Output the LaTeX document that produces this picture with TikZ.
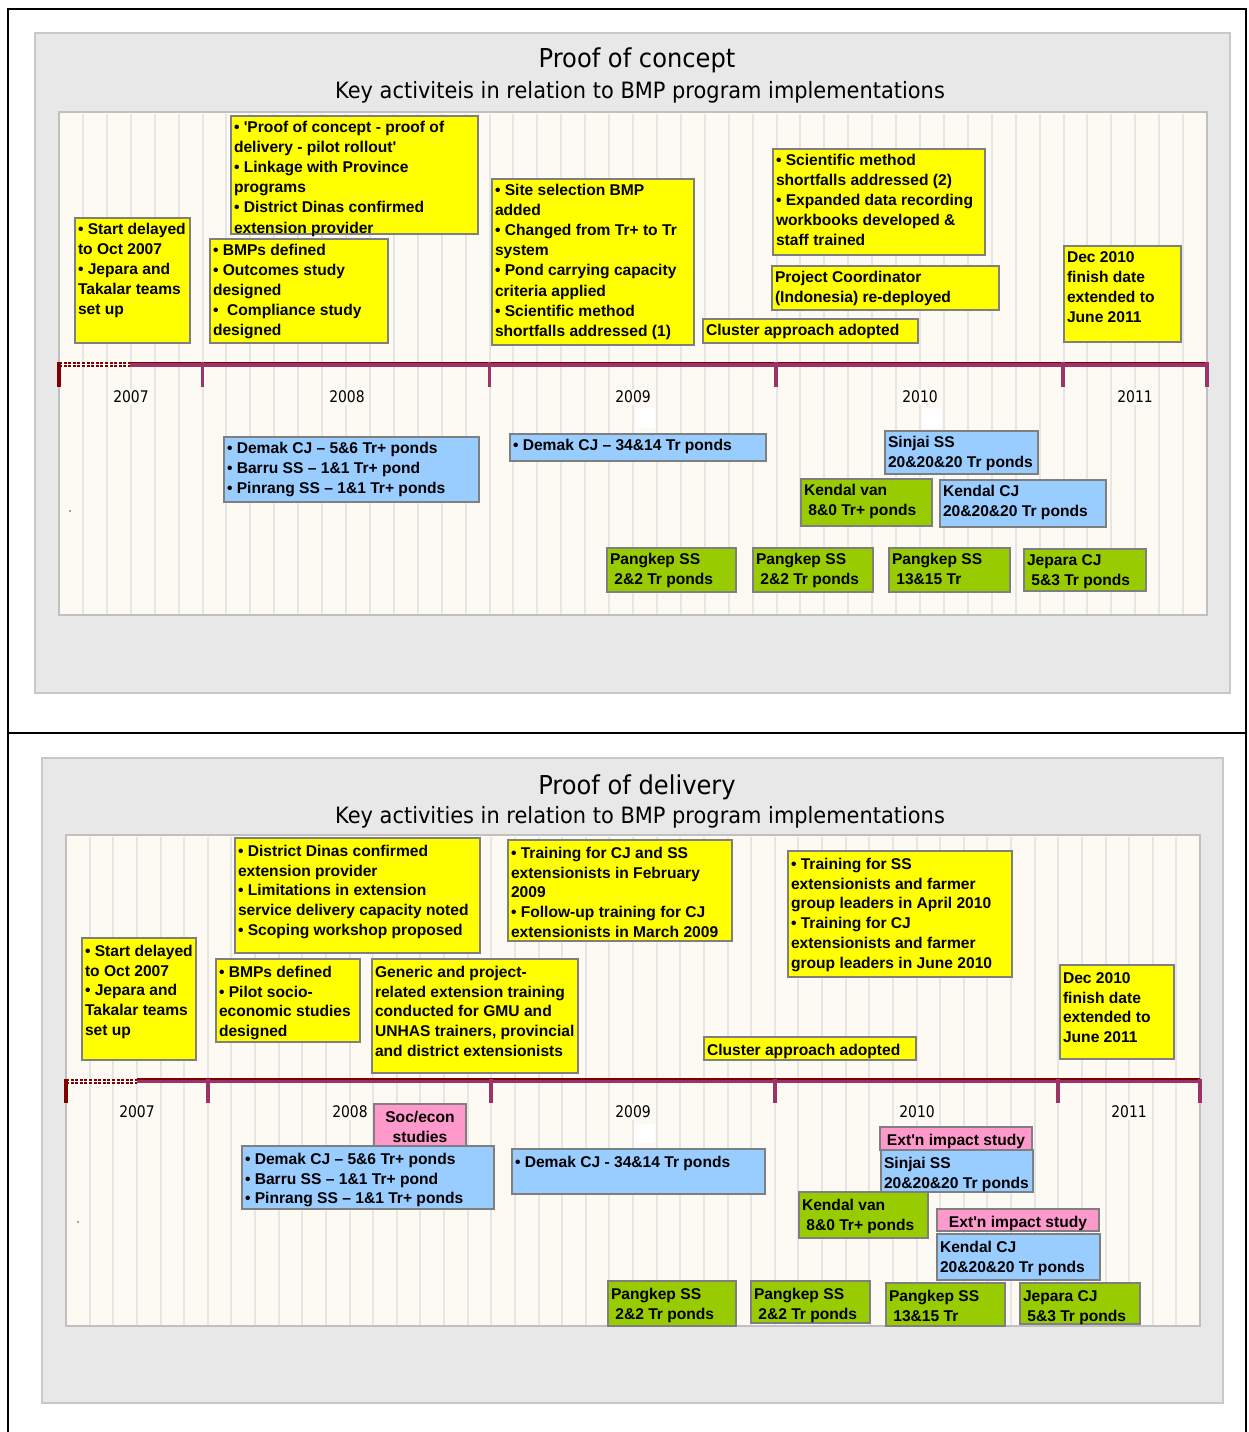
\documentclass[tikz,border=0pt]{standalone}
\usepackage{fontspec}
\setmainfont{Liberation Sans}
\newfontfamily\headfont[FakeStretch=0.93]{DejaVu Sans}
\newfontfamily\yearfont[FakeStretch=0.87]{DejaVu Sans}

\definecolor{panelgray}{HTML}{E8E8E8}
\definecolor{paneledge}{HTML}{C8C8C8}
\definecolor{chartbg}{HTML}{FDFAF3}
\definecolor{chartedge}{HTML}{C0C0C0}
\definecolor{gridgray}{HTML}{E6E6E6}
\definecolor{tlpurple}{HTML}{9B3366}
\definecolor{tldark}{HTML}{800000}
\definecolor{boxedge}{HTML}{7F7F7F}
\definecolor{boxyellow}{HTML}{FFFF00}
\definecolor{boxblue}{HTML}{99CCFF}
\definecolor{boxgreen}{HTML}{99CC00}
\definecolor{boxpink}{HTML}{FF99CC}

\tikzset{
  evt/.style={draw=boxedge, line width=1.3pt, inner sep=0pt, outer sep=0pt,
              anchor=north west, font=\evfont},
  ybox/.style={evt, fill=boxyellow},
  bbox/.style={evt, fill=boxblue},
  gbox/.style={evt, fill=boxgreen},
  pbox/.style={evt, fill=boxpink},
  panel/.style={fill=panelgray, draw=paneledge, line width=2pt},
  chart/.style={fill=chartbg, draw=chartedge, line width=2.5pt},
  gridline/.style={draw=gridgray, line width=2pt},
  axis/.style={draw=tlpurple, line width=4.5pt},
  axisedge/.style={draw=tldark, line width=1.2pt},
  tickmark/.style={draw=tlpurple, line width=3.5pt},
  firsttick/.style={draw=tldark, line width=3.5pt},
  startdash/.style={draw=tldark, line width=2pt, dash pattern=on 3pt off 1.6pt},
  yearlbl/.style={fill=chartbg, inner sep=1.5pt, font=\yearfont\fontsize{16}{19}\selectfont},
  maintitle/.style={inner sep=0pt, font=\headfont\fontsize{26}{31}\selectfont},
  subtitle/.style={inner sep=0pt, font=\headfont\fontsize{22.5}{27}\selectfont},
  frameline/.style={draw=black, line width=2pt},
}

% Event box: [column alignment]{name}{style}{x1}{y1}{x2}{y2}{lines}
\newcommand\evbox[8][l]{%
  \pgfmathsetmacro\evw{#6-#4}%
  \pgfmathsetmacro\evh{#7-#5}%
  \node[#3, minimum width=\evw pt, minimum height=\evh pt] (#2) at (#4,#5)
    {\begin{minipage}[c][\evh pt][t]{\evw pt}%
       \ifx l#1\hspace*{3pt}\else\centering\fi
       \begin{tabular}[t]{@{}#1@{}}\rule{0pt}{\evfirst pt}#8\end{tabular}%
     \end{minipage}};}
\newcommand\qt{\textquotesingle}

\begin{document}
\begin{tikzpicture}[x=1pt,y=-1pt]
\useasboundingbox (0,0) rectangle (1249,1432);
\fill[white] (0,0) rectangle (1249,1432);

% outer frame
\draw[frameline] (8,1432) -- (8,9) -- (1246,9) -- (1246,1432);
\draw[frameline] (8,733) -- (1246,733);

%================ upper panel: proof of concept ================
\def\evfont{\bfseries\fontsize{15.6}{20.2}\selectfont}
\def\evfirst{16}
\path[panel] (35,33) rectangle (1230,693);
\node[maintitle] (ttlA) at (637,60) {Proof of concept};
\node[subtitle] (subA) at (640,92) {Key activiteis in relation to BMP program implementations};
\path[chart] (59,112) rectangle (1207,615);
\foreach \k in {1,...,47}
  \draw[gridline] ({59+\k*23.917},113.5) -- ({59+\k*23.917},613.5);

% time axis
\draw[axis] (130,364.5) -- (1207,364.5);
\draw[axisedge] (130,362.5) -- (1207,362.5);
\fill[white] (59,362) rectangle (130,367);
\draw[startdash] (59,363) -- (130,363);
\draw[startdash] (59,366) -- (130,366);
\draw[firsttick] (59,362) -- (59,387);
\foreach \x in {202.5,489.5,776,1063,1207}
  \draw[tickmark] (\x,362) -- (\x,387);
\node[yearlbl] (yA07) at (131,397) {2007};
\node[yearlbl] (yA08) at (347,397) {2008};
\node[yearlbl] (yA09) at (633,397) {2009};
\node[yearlbl] (yA10) at (920,397) {2010};
\node[yearlbl] (yA11) at (1135,397) {2011};
\fill[white] (635,408) rectangle (655,428);
\fill[white] (922,408) rectangle (942,428);
\fill[black!70] (70,511) circle (0.9);

% activities
\evbox{aStart}{ybox}{75}{218}{190}{343}{• Start delayed\\to Oct 2007\\• Jepara and\\Takalar teams\\set up}
\evbox{aProof}{ybox}{231}{116}{478}{234}{• \qt Proof of concept - proof of\\delivery - pilot rollout\qt\\• Linkage with Province\\programs\\• District Dinas confirmed\\extension provider}
\evbox{aBMP}{ybox}{210}{239}{388}{343}{• BMPs defined\\• Outcomes study\\designed\\•\ \ Compliance study\\designed}
\evbox{aSite}{ybox}{492}{179}{694}{345}{• Site selection BMP\\added\\• Changed from Tr+ to Tr\\system\\• Pond carrying capacity\\criteria applied\\• Scientific method\\shortfalls addressed (1)}
\evbox{aSci}{ybox}{773}{149}{985}{255}{• Scientific method\\shortfalls addressed (2)\\• Expanded data recording\\workbooks developed \&\\staff trained}
\evbox{aCoord}{ybox}{772}{266}{999}{310}{Project Coordinator\\(Indonesia) re-deployed}
\evbox{aClus}{ybox}{703}{319}{918}{343}{Cluster approach adopted}
\evbox{aDec}{ybox}{1064}{246}{1181}{342}{Dec 2010\\finish date\\extended to\\June 2011}

% ponds
\evbox{aDemA}{bbox}{224}{437}{479}{502}{• Demak CJ – 5\&6 Tr+ ponds\\• Barru SS – 1\&1 Tr+ pond\\• Pinrang SS – 1\&1 Tr+ ponds}
\evbox{aDemB}{bbox}{510}{434}{766}{461}{• Demak CJ – 34\&14 Tr ponds}
\evbox{aSinj}{bbox}{885}{431}{1038}{474}{Sinjai SS\\20\&20\&20 Tr ponds}
\evbox{aKenV}{gbox}{801}{479}{932}{526}{Kendal van\\\ 8\&0 Tr+ ponds}
\evbox{aKenC}{bbox}{940}{480}{1106}{527}{Kendal CJ\\20\&20\&20 Tr ponds}
\evbox{aPanA}{gbox}{607}{548}{736}{592}{Pangkep SS\\\ 2\&2 Tr ponds}
\evbox{aPanB}{gbox}{753}{548}{873}{592}{Pangkep SS\\\ 2\&2 Tr ponds}
\evbox{aPanC}{gbox}{889}{548}{1010}{592}{Pangkep SS\\\ 13\&15 Tr}
\evbox{aJep}{gbox}{1024}{549}{1146}{591}{Jepara CJ\\\ 5\&3 Tr ponds}

%================ lower panel: proof of delivery ================
\def\evfont{\bfseries\fontsize{15.6}{19.8}\selectfont}
\def\evfirst{18.3}
\path[panel] (42,758) rectangle (1223,1403);
\node[maintitle] (ttlB) at (637,787) {Proof of delivery};
\node[subtitle] (subB) at (640,817) {Key activities in relation to BMP program implementations};
\path[chart] (66,835) rectangle (1200,1326);
\foreach \k in {1,...,47}
  \draw[gridline] ({66+\k*23.625},836.5) -- ({66+\k*23.625},1324.5);

% time axis
\draw[axis] (137,1081) -- (1200,1081);
\draw[axisedge] (137,1079) -- (1200,1079);
\fill[white] (66,1078.5) rectangle (137,1083.5);
\draw[startdash] (66,1079.5) -- (137,1079.5);
\draw[startdash] (66,1082.5) -- (137,1082.5);
\draw[firsttick] (66,1078.5) -- (66,1103);
\foreach \x in {208,491,775,1058,1200}
  \draw[tickmark] (\x,1078.5) -- (\x,1103);
\node[yearlbl] (yB07) at (137,1112) {2007};
\node[yearlbl] (yB08) at (350,1112) {2008};
\node[yearlbl] (yB09) at (633,1112) {2009};
\node[yearlbl] (yB10) at (917,1112) {2010};
\node[yearlbl] (yB11) at (1129,1112) {2011};
\fill[white] (634,1124) rectangle (655,1143);
\fill[black!70] (78,1222) circle (0.9);

% activities
\evbox{bStart}{ybox}{82}{938}{196}{1060}{• Start delayed\\to Oct 2007\\• Jepara and\\Takalar teams\\set up}
\evbox{bDinas}{ybox}{235}{838}{480}{953}{• District Dinas confirmed\\extension provider\\• Limitations in extension\\service delivery capacity noted\\• Scoping workshop proposed}
\evbox{bBMP}{ybox}{216}{959}{360}{1042}{• BMPs defined\\• Pilot socio-\\economic studies\\designed}
\evbox{bGen}{ybox}{372}{959}{578}{1073}{Generic and project-\\related extension training\\conducted for GMU and\\UNHAS trainers, provincial\\and district extensionists}
\evbox{bTrA}{ybox}{508}{840}{732}{941}{• Training for CJ and SS\\extensionists in February\\2009\\• Follow-up training for CJ\\extensionists in March 2009}
\evbox{bTrB}{ybox}{788}{851}{1012}{977}{• Training for SS\\extensionists and farmer\\group leaders in April 2010\\• Training for CJ\\extensionists and farmer\\group leaders in June 2010}
\evbox{bClus}{ybox}{704}{1037}{916}{1060}{Cluster approach adopted}
\evbox{bDec}{ybox}{1060}{965}{1174}{1059}{Dec 2010\\finish date\\extended to\\June 2011}

% studies and ponds
\evbox[c]{bSoc}{pbox}{374}{1104}{466}{1146}{Soc/econ\\studies}
\evbox{bDemA}{bbox}{242}{1146}{494}{1209}{• Demak CJ – 5\&6 Tr+ ponds\\• Barru SS – 1\&1 Tr+ pond\\• Pinrang SS – 1\&1 Tr+ ponds}
\evbox{bDemB}{bbox}{512}{1149}{765}{1194}{• Demak CJ - 34\&14 Tr ponds}
\evbox[c]{bExtA}{pbox}{880}{1127}{1032}{1150}{Ext\qt n impact study}
\evbox{bSinj}{bbox}{881}{1150}{1033}{1192}{Sinjai SS\\20\&20\&20 Tr ponds}
\evbox{bKenV}{gbox}{799}{1192}{928}{1238}{Kendal van\\\ 8\&0 Tr+ ponds}
\evbox[c]{bExtB}{pbox}{937}{1209}{1099}{1231}{Ext\qt n impact study}
\evbox{bKenC}{bbox}{937}{1234}{1100}{1280}{Kendal CJ\\20\&20\&20 Tr ponds}
\evbox{bPanA}{gbox}{608}{1281}{736}{1326}{Pangkep SS\\\ 2\&2 Tr ponds}
\evbox{bPanB}{gbox}{751}{1281}{870}{1323}{Pangkep SS\\\ 2\&2 Tr ponds}
\evbox{bPanC}{gbox}{886}{1283}{1005}{1326}{Pangkep SS\\\ 13\&15 Tr}
\evbox{bJep}{gbox}{1020}{1283}{1140}{1324}{Jepara CJ\\\ 5\&3 Tr ponds}
\end{tikzpicture}
\end{document}
